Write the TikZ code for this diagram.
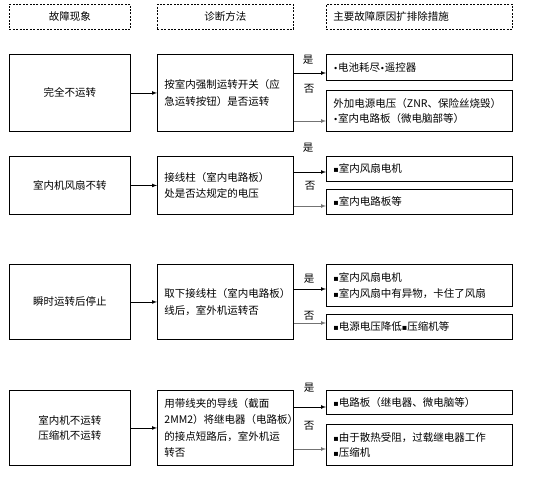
\documentclass[tikz,border=0pt]{standalone}
\usepackage{fontspec}
\newfontfamily\cjk{Noto Sans CJK SC}
\newfontfamily\symfont{DejaVu Sans}
\newcommand{\sqmark}{{\symfont\fontsize{8}{8}\selectfont ▪}}
\newcommand{\dotmark}{{\symfont\fontsize{8}{8}\selectfont •}}

\begin{document}
\begin{tikzpicture}[x=1pt,y=-1pt]

	\def\xa{9}
	\def\wa{121}
	\def\xb{157}
	\def\wb{136}
	\def\xc{326}
	\def\wc{186}

	% Colours
	\colorlet{boxcolor}{black}
	\colorlet{nocolor}{black!55}

	% Styles
	\tikzstyle{headbox}=[draw=boxcolor, dash pattern=on 2pt off 1.4pt, line width=0.8pt, anchor=north west,
		inner xsep=7pt, minimum height=25pt, font=\cjk\fontsize{10.5}{12}\selectfont]
	\tikzstyle{facebox}=[draw=boxcolor, line width=0.9pt, anchor=north west, align=center,
		inner xsep=7pt, text width=\wa pt-14pt, font=\cjk\fontsize{10.5}{15}\selectfont]
	\tikzstyle{testbox}=[facebox, align=left, text width=\wb pt-14pt, font=\cjk\fontsize{10.5}{16.5}\selectfont]
	\tikzstyle{causebox}=[facebox, align=left, text width=\wc pt-14pt, font=\cjk\fontsize{10.5}{15.5}\selectfont]
	\tikzstyle{stepline}=[-latex, line width=0.7pt]
	\tikzstyle{yesline}=[-latex, line width=0.7pt]
	\tikzstyle{noline}=[-latex, line width=0.7pt, nocolor]
	\tikzstyle{lab}=[font=\cjk\fontsize{10.5}{12}\selectfont, inner sep=0pt]

	\useasboundingbox (0,0) rectangle (540,476);

	%== Headings ==============================================================
	\node[headbox, minimum width=\wa pt] (hface) at (\xa,4) {故障现象};
	\node[headbox, minimum width=\wb pt] (htest) at (\xb,4) {诊断方法};
	\node[headbox, minimum width=\wc pt, text width=\wc pt-14pt, align=left] (hcause) at (\xc,4) {主要故障原因扩排除措施};

	%== Row 1 =================================================================
	\node[facebox, minimum height=77pt] (face1) at (\xa,54) {完全不运转};
	\node[testbox, minimum height=77pt] (test1) at (\xb,54) {按室内强制运转开关（应\\急运转按钮）是否运转};
	\node[causebox, minimum height=26pt] (yes1) at (\xc,54) {\dotmark 电池耗尽\dotmark 遥控器};
	\node[causebox, minimum height=41pt] (no1) at (\xc,90) {外加电源电压（ZNR、保险丝烧毁）\\\dotmark 室内电路板（微电脑部等）};

	\coordinate (ya1) at (\xc,73);
	\coordinate (na1) at (\xc,121);
	\draw[stepline] (face1) -- (test1);
	\draw[yesline] (test1.east |- ya1) -- (ya1);
	\draw[noline] (test1.east |- na1) -- (na1);
	\node[lab] (is1) at (308,60) {是};
	\node[lab] (not1) at (309,89) {否};

	%== Row 2 =================================================================
	\node[facebox, minimum height=58pt] (face2) at (\xa,156) {室内机风扇不转};
	\node[testbox, minimum height=58pt] (test2) at (\xb,156) {接线柱（室内电路板）\\处是否达规定的电压};
	\node[causebox, minimum height=25pt] (yes2) at (\xc,156) {\sqmark 室内风扇电机};
	\node[causebox, minimum height=25pt] (no2) at (\xc,189) {\sqmark 室内电路板等};

	\coordinate (ya2) at (\xc,172);
	\coordinate (na2) at (\xc,206);
	\draw[stepline] (face2) -- (test2);
	\draw[yesline] (test2.east |- ya2) -- (ya2);
	\draw[noline] (test2.east |- na2) -- (na2);
	\node[lab] (is2) at (308,148) {是};
	\node[lab] (not2) at (310,186) {否};

	%== Row 3 =================================================================
	\node[facebox, minimum height=75pt] (face3) at (\xa,264) {瞬时运转后停止};
	\node[testbox, minimum height=75pt] (test3) at (\xb,264) {取下接线柱（室内电路板）\\线后，室外机运转否};
	\node[causebox, minimum height=42pt] (yes3) at (\xc,264) {\sqmark 室内风扇电机\\\sqmark 室内风扇中有异物，卡住了风扇};
	\node[causebox, minimum height=25pt] (no3) at (\xc,314) {\sqmark 电源电压降低\sqmark 压缩机等};

	\coordinate (ya3) at (\xc,289);
	\coordinate (na3) at (\xc,323);
	\draw[stepline] (face3) -- (test3);
	\draw[yesline] (test3.east |- ya3) -- (ya3);
	\draw[noline] (test3.east |- na3) -- (na3);
	\node[lab] (is3) at (309,279) {是};
	\node[lab] (not3) at (309,316) {否};

	%== Row 4 =================================================================
	\node[facebox, minimum height=75pt] (face4) at (\xa,390) {室内机不运转\\压缩机不运转};
	\node[testbox, minimum height=75pt] (test4) at (\xb,390) {用带线夹的导线（截面\\2MM2）将继电器（电路板）\\的接点短路后，室外机运\\转否};
	\node[causebox, minimum height=24pt] (yes4) at (\xc,390) {\sqmark 电路板（继电器、微电脑等）};
	\node[causebox, minimum height=41pt] (no4) at (\xc,424) {\sqmark 由于散热受阻，过载继电器工作\\\sqmark 压缩机};

	\coordinate (ya4) at (\xc,407);
	\coordinate (na4) at (\xc,449);
	\draw[stepline] (face4) -- (test4);
	\draw[yesline] (test4.east |- ya4) -- (ya4);
	\draw[noline] (test4.east |- na4) -- (na4);
	\node[lab] (is4) at (309,388) {是};
	\node[lab] (not4) at (309,426) {否};

\end{tikzpicture}
\end{document}
